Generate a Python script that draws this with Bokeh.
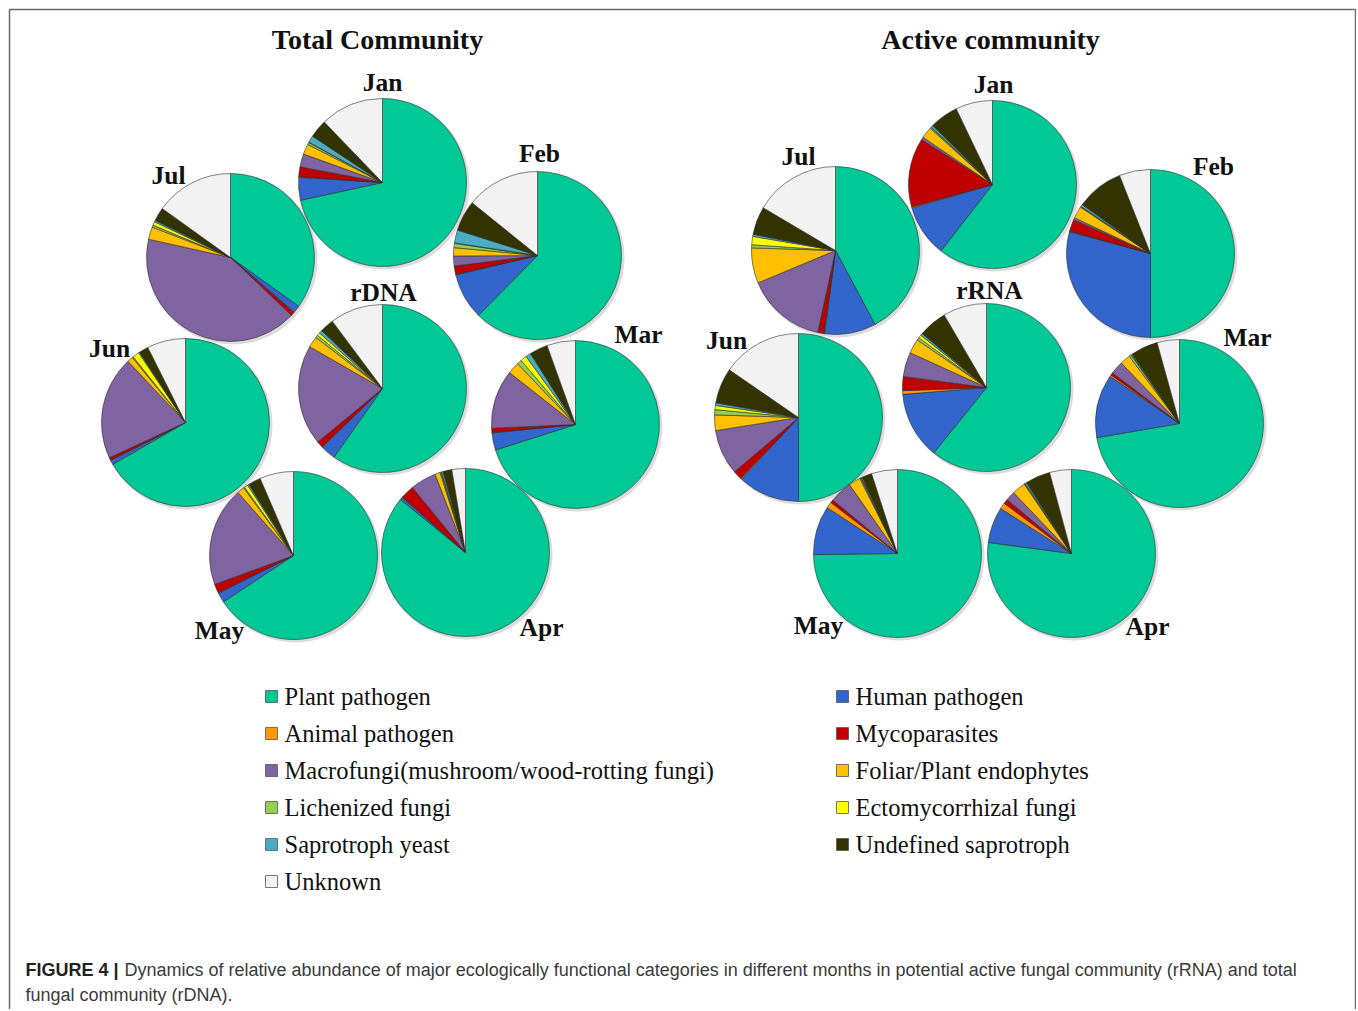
import numpy as np
from bokeh.plotting import figure
from bokeh.models import Range1d, ColumnDataSource
from bokeh.core.properties import value
from bokeh.embed import file_html
from bokeh.resources import INLINE

# ---------------- data ----------------
categories = ["Plant pathogen", "Human pathogen", "Animal pathogen", "Mycoparasites",
              "Macrofungi(mushroom/wood-rotting fungi)", "Foliar/Plant endophytes",
              "Lichenized fungi", "Ectomycorrhizal fungi", "Saprotroph yeast",
              "Undefined saprotroph", "Unknown"]
colors = ["#00C997", "#3366CC", "#FF9900", "#C00000", "#8064A2", "#FFC000",
          "#92D050", "#FFFF00", "#4BACC6", "#333300", "#F2F2F2"]

# relative abundance (%) per category, in category order
total_jan  = [71.6, 4.4, 0.1, 1.9, 2.5, 2.0, 0.4, 0.1, 1.3, 3.5, 12.2]
total_feb  = [62.4, 8.9, 0.1, 1.6, 1.9, 1.6, 0.8, 0.1, 2.5, 5.9, 14.2]
total_mar  = [70.1, 3.3, 0.1, 0.8, 11.3, 2.3, 0.9, 1.2, 1.0, 3.5, 5.5]
total_apr  = [85.9, 0.5, 0.1, 2.6, 5.0, 1.0, 0.2, 0.1, 0.3, 1.7, 2.6]
total_may  = [65.7, 1.9, 0.1, 1.7, 19.1, 1.4, 0.2, 0.7, 0.3, 2.4, 6.5]
total_jun  = [66.7, 0.8, 0.1, 0.5, 19.9, 1.1, 0.2, 1.3, 0.2, 1.8, 7.4]
total_jul  = [34.9, 1.4, 0.1, 0.7, 41.4, 2.4, 0.4, 0.7, 0.3, 2.6, 15.1]
total_rdna = [59.8, 2.9, 0.1, 1.2, 19.3, 2.1, 0.5, 0.6, 0.6, 2.7, 10.2]

active_jan  = [60.5, 10.0, 0.2, 13.3, 0.5, 2.2, 0.2, 0.1, 0.4, 5.5, 7.1]
active_feb  = [50.0, 29.2, 0.1, 2.3, 0.4, 2.3, 0.1, 0.1, 0.4, 9.1, 6.0]
active_mar  = [72.3, 12.2, 0.3, 0.5, 2.5, 2.0, 0.4, 0.1, 0.2, 5.2, 4.3]
active_apr  = [77.1, 6.9, 1.2, 0.9, 1.8, 2.6, 0.1, 0.1, 0.3, 4.8, 4.2]
active_may  = [74.8, 9.4, 1.2, 0.6, 4.3, 2.3, 0.2, 0.1, 0.2, 1.9, 5.0]
active_jun  = [50.0, 11.9, 0.2, 1.7, 8.7, 3.0, 1.0, 0.8, 0.5, 6.8, 15.4]
active_jul  = [42.2, 9.9, 0.1, 1.2, 15.3, 6.8, 0.6, 1.6, 0.4, 5.4, 16.5]
active_rrna = [60.8, 12.9, 0.7, 2.7, 4.7, 2.8, 0.5, 0.6, 0.4, 5.5, 8.4]

pie_names = ["Jan", "Feb", "Mar", "Apr", "May", "Jun", "Jul"]
panel_titles = ["Total Community", "Active community"]
center_names = ["rDNA", "rRNA"]
caption_bold = "FIGURE 4 |"
caption_line1 = ("Dynamics of relative abundance of major ecologically functional categories "
                 "in different months in potential active fungal community (rRNA) and total")
caption_line2 = "fungal community (rDNA)."

# ---------------- layout ----------------
IMG_H = 1011
W, H = 1356, 1009
R = 84


def Y(y):  # image row -> data y
    return IMG_H - y


# (values, centre x, centre y, label, label x, label y) in image pixels
left_pies = [
    (total_jul, 230, 257, "Jul", 168, 175),
    (total_jun, 185, 422, "Jun", 109, 348),
    (total_may, 293, 555, "May", 219, 630),
    (total_rdna, 382, 388, "rDNA", 383, 292),
    (total_jan, 382, 182, "Jan", 382, 82),
    (total_feb, 537, 255, "Feb", 539, 153),
    (total_mar, 575, 424, "Mar", 638, 334),
    (total_apr, 465, 552, "Apr", 541, 627),
]
right_pies = [
    (active_jul, 835, 250, "Jul", 798, 156),
    (active_jun, 798, 417, "Jun", 726, 340),
    (active_may, 897, 553, "May", 818, 625),
    (active_rrna, 986, 387, "rRNA", 989, 290),
    (active_jan, 992, 184, "Jan", 993, 84),
    (active_feb, 1150, 253, "Feb", 1213, 166),
    (active_mar, 1179, 423, "Mar", 1247, 337),
    (active_apr, 1071, 553, "Apr", 1147, 626),
]
pies = left_pies + right_pies

p = figure(width=W, height=H, output_backend="svg", toolbar_location=None,
           x_range=Range1d(0, W), y_range=Range1d(IMG_H - H, IMG_H),
           min_border=0)
p.axis.visible = False
p.grid.visible = False
p.outline_line_color = None
p.background_fill_color = "white"

# frame
p.line(x=[9, 9, 1355, 1355], y=[-5, Y(9), Y(9), -5], line_color="#6a6a6a", line_width=1.5)

# shadows
p.circle(x=[c[1] + 2 for c in pies], y=[Y(c[2] + 2) for c in pies], radius=R + 1,
         fill_color="#9a9a9a", fill_alpha=0.35, line_color=None)

# wedges
wx, wy, ws, we, wc = [], [], [], [], []
for vals, cx, cy, lab, lx, ly in pies:
    v = np.array(vals, dtype=float)
    frac = v / v.sum()
    cum = np.concatenate([[0.0], np.cumsum(frac)])
    for i in range(len(v)):
        wx.append(cx)
        wy.append(Y(cy))
        ws.append(np.pi / 2 - 2 * np.pi * cum[i])
        we.append(np.pi / 2 - 2 * np.pi * cum[i + 1])
        wc.append(colors[i])
src = ColumnDataSource(dict(x=wx, y=wy, s=ws, e=we, c=wc))
p.wedge(x="x", y="y", radius=R, start_angle="s", end_angle="e", direction="clock",
        fill_color="c", line_color="#2e2e2e", line_width=0.6, source=src)

# pie labels
p.text(x=[c[4] for c in pies], y=[Y(c[5]) for c in pies], text=[c[3] for c in pies],
       text_font=value("Liberation Serif"), text_font_style="bold", text_font_size="25.5px",
       text_align="center", text_baseline="middle", text_color="#111111")

# panel titles
p.text(x=[377, 990], y=[Y(39), Y(39)], text=panel_titles,
       text_font=value("Liberation Serif"), text_font_style="bold", text_font_size="28px",
       text_align="center", text_baseline="middle", text_color="#111111")

# legend
rows = [696, 733, 770, 807, 844, 881]
leg_x, leg_y, leg_c, leg_t, leg_tx = [], [], [], [], []
for i, name in enumerate(categories):
    col = i % 2
    row = i // 2
    sx = 271 if col == 0 else 842
    leg_x.append(sx)
    leg_y.append(Y(rows[row]))
    leg_c.append(colors[i])
    leg_t.append(name)
    leg_tx.append(sx + 13)
p.rect(x=leg_x, y=leg_y, width=12, height=12, fill_color=leg_c, line_color="#555555",
       line_width=0.8)
p.text(x=leg_tx, y=leg_y, text=leg_t, text_font=value("Liberation Serif"),
       text_font_size="24.5px", text_align="left", text_baseline="middle", text_color="#111111")

# caption
p.text(x=[25], y=[Y(969)], text=[caption_bold], text_font=value("Liberation Sans"),
       text_font_style="bold", text_font_size="18px", text_align="left",
       text_baseline="middle", text_color="#222222")
p.text(x=[124, 25], y=[Y(969), Y(994)], text=[caption_line1, caption_line2],
       text_font=value("Liberation Sans"), text_font_size="18px", text_align="left",
       text_baseline="middle", text_color="#3a3a3a")

open("out.html", "w").write(file_html(p, INLINE))
